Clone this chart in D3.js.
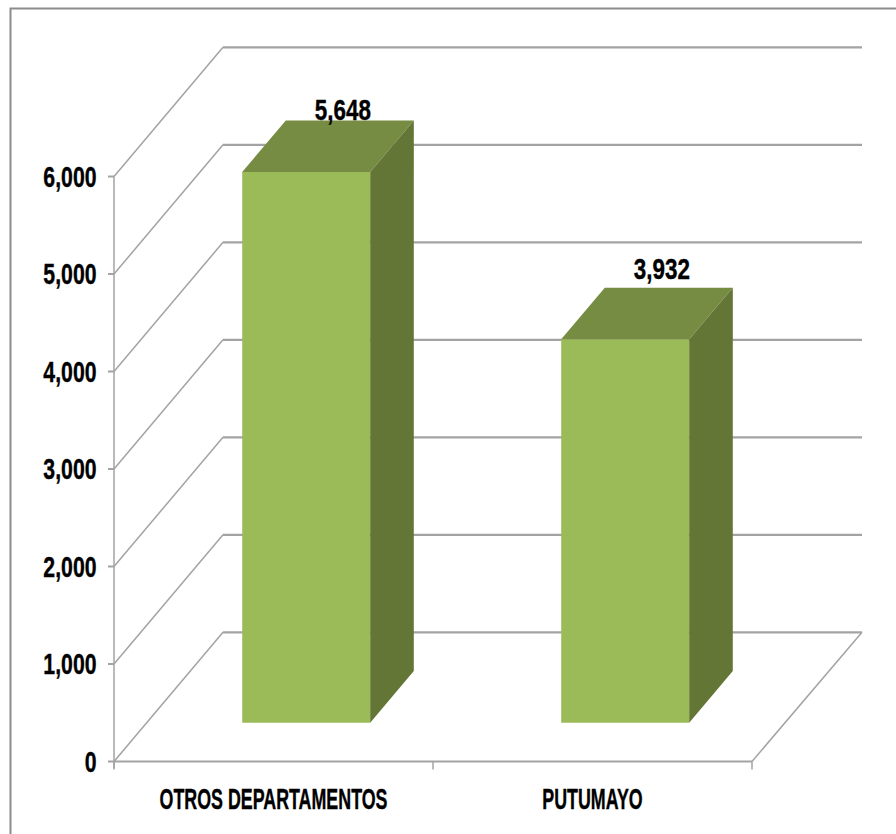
<!DOCTYPE html>
<html><head><meta charset="utf-8">
<script src="https://cdn.jsdelivr.net/npm/d3@7"></script>
<style>html,body{margin:0;padding:0;background:#fff}svg{display:block}
text{font-family:"Liberation Sans",sans-serif;font-weight:700;fill:#000;stroke:#000;stroke-width:.4px}</style>
</head><body><svg id="c" width="896" height="834"></svg>
<script>
const categories = ["OTROS DEPARTAMENTOS", "PUTUMAYO"];
const values = [5648, 3932];
const yTicks = [0, 1000, 2000, 3000, 4000, 5000, 6000];

const svg = d3.select("#c");
const x = d3.scaleBand().domain(categories).range([114, 752]);
const y = d3.scaleLinear().domain([0, 6000]).range([761.5, 176.5]);
const depthX = d3.scaleLinear().domain([0, 1]).range([0, 109]);
const depthY = d3.scaleLinear().domain([0, 1]).range([0, -129.2]);
const P = (px, val, d) => [px + depthX(d), y(val) + depthY(d)];
const line = d3.line();
const grid = "#a3a3a3";
const label = (tx, ty, str, size, sx, anchor) => svg.append("text")
  .attr("transform", `translate(${tx},${ty}) scale(${sx},1)`)
  .attr("text-anchor", anchor).attr("font-size", size).text(str);

svg.append("path").attr("d", "M10.5,834V8.5H896").attr("fill", "none").attr("stroke", "#8c8c8c").attr("stroke-width", 2);

yTicks.forEach(t => {
  svg.append("path").attr("fill", "none").attr("stroke", grid).attr("stroke-width", 1.5)
    .attr("d", line([P(114, t, 0), P(114, t, 1)]));
  svg.append("line").attr("x1", P(114, t, 1)[0]).attr("x2", P(752, t, 1)[0] + 1).attr("y1", P(114, t, 1)[1]).attr("y2", P(114, t, 1)[1])
    .attr("stroke", grid).attr("stroke-width", 2.2);
  svg.append("line").attr("x1", 108).attr("x2", 114).attr("y1", y(t)).attr("y2", y(t)).attr("stroke", grid).attr("stroke-width", 2);
  label(96.5, y(t) + 10, d3.format(",")(t), 29.5, 0.72, "end");
});
svg.append("line").attr("x1", 114).attr("x2", 114).attr("y1", y(6000)).attr("y2", y(0) + 7).attr("stroke", grid).attr("stroke-width", 1.5);
svg.append("line").attr("x1", 114).attr("x2", 752).attr("y1", y(0)).attr("y2", y(0)).attr("stroke", grid).attr("stroke-width", 2.2);
svg.append("path").attr("fill", "none").attr("stroke", grid).attr("stroke-width", 1.5).attr("d", line([P(752, 0, 0), P(753, 0, 1)]));
[114, 433, 752].forEach(px => svg.append("line").attr("x1", px).attr("x2", px).attr("y1", y(0)).attr("y2", y(0) + 8).attr("stroke", grid).attr("stroke-width", 1.5));

const barW = 128, d0 = 0.3, d1 = 0.7;
const labelLift = [1, 9];
categories.forEach((c, i) => {
  const v = values[i];
  const xl = x(c) + x.bandwidth() / 2 - barW / 2, xr = xl + barW;
  const poly = (pts, col) => svg.append("polygon").attr("points", pts.join(" ")).attr("fill", col);
  poly([P(xl, 0, d0), P(xr, 0, d0), P(xr, v, d0), P(xl, v, d0)], "#9bbb59");
  poly([P(xl, v, d0), P(xr, v, d0), P(xr, v, d1), P(xl, v, d1)], "#778c43");
  poly([P(xr, 0, d0), P(xr, 0, d1), P(xr, v, d1), P(xr, v, d0)], "#647635");
  const top = P(xl + barW / 2, v, d1);
  label(top[0] - 7, top[1] - labelLift[i] + 0.5, d3.format(",")(v), 29.5, 0.76, "middle");
  label(x(c) + x.bandwidth() / 2, 809, c, 30, 0.595, "middle");
});
</script></body></html>
